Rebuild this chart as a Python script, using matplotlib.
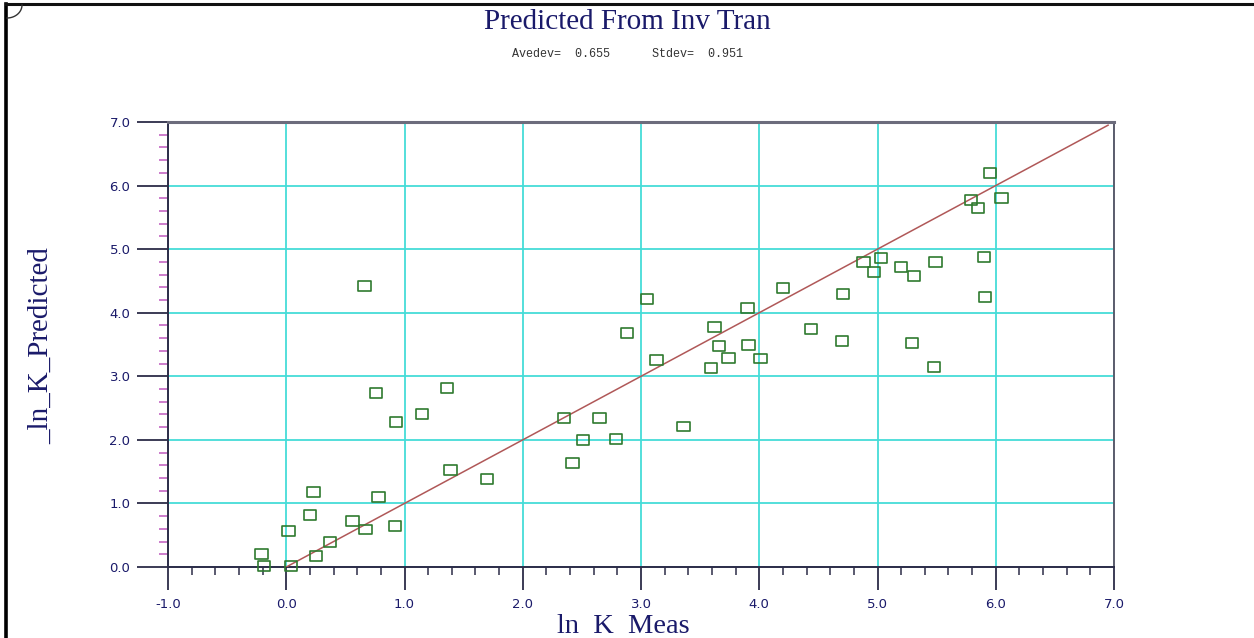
import numpy as np
import matplotlib
matplotlib.use('Agg')
import matplotlib.pyplot as plt
from matplotlib.lines import Line2D
from matplotlib.path import Path
from matplotlib.ticker import MultipleLocator, FormatStrFormatter

# measured vs predicted ln K
ln_k_meas = [-0.21, -0.19, 0.04, 0.02, 0.20, 0.23, 0.25, 0.37, 0.56, 0.67, 0.78, 0.92,
             0.76, 0.93, 1.15, 1.36, 1.39, 1.70, 0.66,
             2.35, 2.65, 2.51, 2.79, 2.42, 3.36, 3.59, 5.48,
             5.95, 5.79, 5.85, 6.05, 4.88, 5.03, 4.97, 5.20, 5.31, 5.49, 5.90, 5.91,
             4.20, 4.71, 3.05, 3.90, 2.88, 3.62, 4.44, 4.70, 5.29, 3.13, 3.66, 3.91,
             3.74, 4.01]
ln_k_pred = [0.21, 0.02, 0.02, 0.57, 0.82, 1.18, 0.18, 0.40, 0.73, 0.59, 1.10, 0.64,
             2.73, 2.28, 2.41, 2.81, 1.52, 1.38, 4.42,
             2.35, 2.35, 2.00, 2.01, 1.63, 2.21, 3.13, 3.14,
             6.20, 5.78, 5.65, 5.80, 4.80, 4.86, 4.64, 4.72, 4.58, 4.80, 4.88, 4.24,
             4.39, 4.30, 4.22, 4.07, 3.68, 3.78, 3.74, 3.56, 3.53, 3.26, 3.48, 3.49,
             3.29, 3.28]
line_ends = [0.0, 6.95]

ave_dev = 0.655
std_dev = 0.951

navy = '#1a1a6a'
grid_col = '#45dcd8'
dark = '#2c2c48'

fig = plt.figure(figsize=(12.54, 6.38), dpi=100)
ax = fig.add_axes([168/1254, 71/638, (1114-168)/1254, (567-122)/638])

ax.set_xlim(-1, 7)
ax.set_ylim(0, 7)

# gridlines at whole units
ax.xaxis.set_major_locator(MultipleLocator(1))
ax.yaxis.set_major_locator(MultipleLocator(1))
ax.xaxis.set_minor_locator(MultipleLocator(0.2))
ax.yaxis.set_minor_locator(MultipleLocator(0.2))
ax.xaxis.set_major_formatter(FormatStrFormatter('%.1f'))
ax.yaxis.set_major_formatter(FormatStrFormatter('%.1f'))
ax.grid(True, which='major', color=grid_col, lw=1.3, zorder=1)

ax.tick_params(axis='y', which='major', direction='out', length=22, width=1.3,
               color=dark, pad=5, labelsize=9.5, labelcolor=navy)
ax.tick_params(axis='y', which='minor', direction='out', length=6.5, width=1.2,
               color='#c466c4')
ax.tick_params(axis='x', which='major', direction='out', length=16.5, width=1.3,
               color=dark, pad=6, labelsize=9.5, labelcolor=navy)
ax.tick_params(axis='x', which='minor', direction='out', length=6, width=1.1,
               color=dark)

for side in ['left', 'bottom']:
    ax.spines[side].set_color(dark)
    ax.spines[side].set_linewidth(1.4)
ax.spines['top'].set_color('#6c6c7c')
ax.spines['top'].set_linewidth(2.2)
ax.spines['right'].set_color('#5c5c6c')
ax.spines['right'].set_linewidth(1.4)

# unity line
ax.plot(line_ends, line_ends, color='#b05858', lw=1.1, zorder=3)

# open rectangle markers
box = Path([(-1, -0.8), (1, -0.8), (1, 0.8), (-1, 0.8), (-1, -0.8)],
           [Path.MOVETO, Path.LINETO, Path.LINETO, Path.LINETO, Path.CLOSEPOLY])
ax.scatter(ln_k_meas, ln_k_pred, marker=box, s=80, facecolors='none',
           edgecolors='#2f7a2f', linewidths=1.2, zorder=4, clip_on=False)

fig.text(0.5, 0.965, 'Predicted From Inv Tran', ha='center', va='center',
         family='Liberation Serif', fontsize=21, color=navy)
fig.text(0.5, 0.915, 'Avedev=  %.3f      Stdev=  %.3f' % (ave_dev, std_dev),
         ha='center', va='center', family='Liberation Mono', fontsize=8.5,
         color='#333333')
fig.text(0.497, 0.018, 'ln  K  Meas', ha='center', va='center',
         family='Liberation Serif', fontsize=20.5, color=navy)
fig.text(0.033, 0.459, '_ln_K_Predicted', ha='center', va='center', rotation=90,
         family='Liberation Serif', fontsize=21, color=navy)

# window frame on the left and top edges
fig.add_artist(Line2D([6/1254, 6/1254], [0, 1 - 4/638], transform=fig.transFigure,
                      color='black', lw=2.6))
fig.add_artist(Line2D([6/1254, 1], [1 - 4/638, 1 - 4/638], transform=fig.transFigure,
                      color='#111111', lw=2.2))
t = np.linspace(0, np.pi / 2, 20)
fig.add_artist(Line2D((7 + 15 * np.sin(t)) / 1254, 1 - (5 + 13 * np.cos(t)) / 638,
                      transform=fig.transFigure, color='#333333', lw=1))

fig.savefig('out.png', dpi=100, facecolor='white')
